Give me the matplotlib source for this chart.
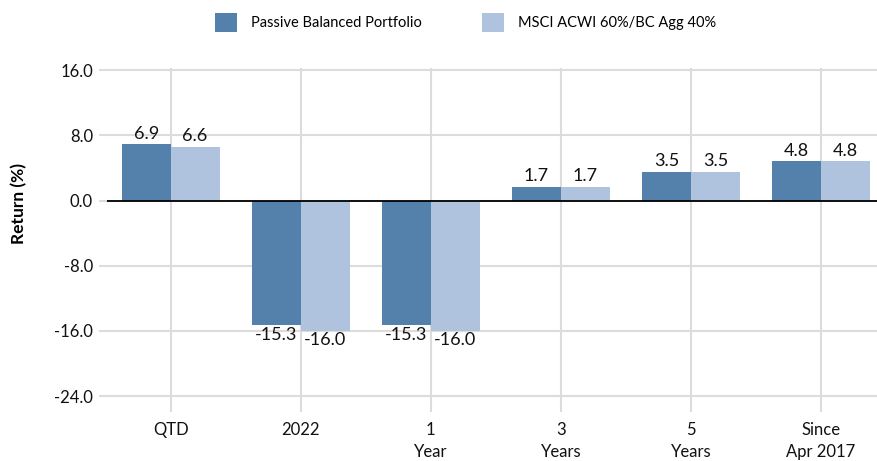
import numpy as np
import matplotlib
matplotlib.use('Agg')
import matplotlib.pyplot as plt

plt.rcParams['font.family'] = ['Lato', 'DejaVu Sans']

categories = ['QTD', '2022', '1\nYear', '3\nYears', '5\nYears', 'Since\nApr 2017']
portfolio = [6.9, -15.3, -15.3, 1.7, 3.5, 4.8]
benchmark = [6.6, -16.0, -16.0, 1.7, 3.5, 4.8]
series_names = ['Passive Balanced Portfolio', 'MSCI ACWI 60%/BC Agg 40%']
yticks = [16, 8, 0, -8, -16, -24]

dark = '#5381ac'
light = '#b0c3de'
grid_c = '#dcdcdc'

fig = plt.figure(figsize=(8.77, 4.61), dpi=100)
ax = fig.add_axes([0.122, 0.130, 0.878, 0.723])

x = np.arange(len(categories))
w = 0.375
b1 = ax.bar(x - w / 2, portfolio, w, color=dark, label=series_names[0], zorder=3)
b2 = ax.bar(x + w / 2, benchmark, w, color=light, label=series_names[1], zorder=3)

for bars in (b1, b2):
    for r in bars:
        v = r.get_height()
        cx = r.get_x() + r.get_width() / 2
        if v >= 0:
            ax.annotate(f'{v:.1f}', (cx, v), xytext=(0, 2), textcoords='offset points',
                        ha='center', va='bottom', fontsize=13, color='#111111')
        else:
            ax.annotate(f'{v:.1f}', (cx, v), xytext=(0, -1), textcoords='offset points',
                        ha='center', va='top', fontsize=13, color='#111111')

ax.axhline(0, color='black', lw=1.3, zorder=4)

ax.set_xlim(-0.49, 5.43)
ax.set_ylim(-24.6, 16.3)
ax.set_yticks(yticks)
ax.set_yticklabels([f'{t:.1f}' for t in yticks])
ax.set_xticks(x)
ax.set_xticklabels(categories)

ax.grid(axis='y', color=grid_c, lw=1.5, zorder=0)
ax.grid(axis='x', color=grid_c, lw=1.5, zorder=0)
for s in ax.spines.values():
    s.set_visible(False)
ax.tick_params(axis='y', colors=grid_c, length=6, width=1.5, labelsize=12,
               labelcolor='#111111', pad=4)
ax.tick_params(axis='x', colors=grid_c, length=8, width=1.5, labelsize=12,
               labelcolor='#111111', pad=7)
for lab in ax.get_xticklabels():
    lab.set_linespacing(1.45)
    lab.set_va('top')

ax.set_ylabel('Return (%)', fontsize=12.5, fontweight='bold')
ax.yaxis.set_label_coords(-0.103, 0.594)

fig.legend(loc='upper center', bbox_to_anchor=(0.531, 1.0), ncol=2, frameon=False,
           fontsize=10.5, handlelength=1.5, handleheight=1.6, columnspacing=4.1,
           handletextpad=1.0)

fig.savefig('out.png', dpi=100)
